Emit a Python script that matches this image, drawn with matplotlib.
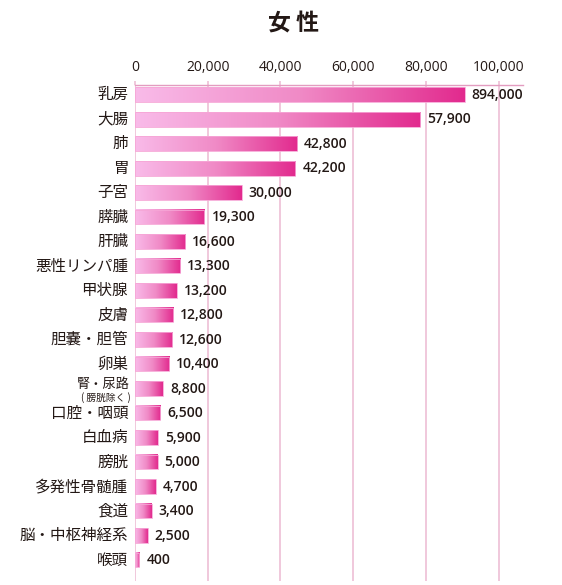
import numpy as np
import matplotlib
matplotlib.use("Agg")
import matplotlib.pyplot as plt
from matplotlib.colors import LinearSegmentedColormap
from matplotlib.patches import Rectangle

# ---- data ----
categories = ["乳房", "大腸", "肺", "胃", "子宮", "膵臓", "肝臓", "悪性リンパ腫",
              "甲状腺", "皮膚", "胆嚢・胆管", "卵巣", "腎・尿路", "口腔・咽頭",
              "白血病", "膀胱", "多発性骨髄腫", "食道", "脳・中枢神経系", "喉頭"]
bar_values = [90700, 78400, 44600, 44100, 29400, 19100, 13800, 12400,
              11500, 10500, 10200, 9400, 7700, 6900,
              6300, 6200, 5700, 4600, 3500, 1200]
value_labels = ["894,000", "57,900", "42,800", "42,200", "30,000", "19,300",
                "16,600", "13,300", "13,200", "12,800", "12,600", "10,400",
                "8,800", "6,500", "5,900", "5,000", "4,700", "3,400", "2,500", "400"]
sub_label = "( 膀胱除く )"
xticks = [0, 20000, 40000, 60000, 80000, 100000]
xtick_labels = ["0", "20,000", "40,000", "60,000", "80,000", "100,000"]
title = "女 性"

JP = ["Noto Sans CJK JP", "DejaVu Sans"]
NUM = ["Open Sans", "DejaVu Sans"]
TXT = "#231815"
GRID = "#eebfd5"
AXLINE = "#e39cc0"

fig = plt.figure(figsize=(5.62, 5.85), dpi=100)
W, H = 562, 585
ax = fig.add_axes([135 / W, 1 - 581 / H, (523 - 135) / W, (581 - 85) / H])

cmap = LinearSegmentedColormap.from_list("pinkgrad", ["#f9bbe9", "#f08ac6", "#e22a8e"])
grad = np.linspace(0, 1, 256).reshape(1, -1)
bh = 0.6
y = np.arange(len(categories))

for yi, v in zip(y, bar_values):
    ax.imshow(grad, extent=[0, v, yi + bh / 2, yi - bh / 2], aspect="auto",
              cmap=cmap, interpolation="bicubic", zorder=3)
    ax.add_patch(Rectangle((0, yi - bh / 2), v, bh, fill=False,
                           edgecolor="#f6a6d6", linewidth=0.6, zorder=4))

for yi, v, lab in zip(y, bar_values, value_labels):
    ax.annotate(lab, xy=(v, yi), xytext=(5, 0), textcoords="offset points",
                ha="left", va="center", fontsize=10, fontweight="semibold",
                family=NUM, color=TXT, zorder=5)

for yi, cat in zip(y, categories):
    if cat == "腎・尿路":
        ax.annotate(cat, xy=(0, yi), xycoords=("axes fraction", "data"),
                    xytext=(-3.5, 3), textcoords="offset points",
                    ha="right", va="center", fontsize=9.5,
                    family=JP, color=TXT)
        ax.annotate(sub_label, xy=(0, yi), xycoords=("axes fraction", "data"),
                    xytext=(-3, -6.5), textcoords="offset points",
                    ha="right", va="center", fontsize=7,
                    family=JP, color=TXT)
    else:
        ax.annotate(cat, xy=(0, yi), xycoords=("axes fraction", "data"),
                    xytext=(-5, 0), textcoords="offset points",
                    ha="right", va="center", fontsize=11.2,
                    family=JP, color=TXT)

ax.set_xlim(0, 106700)
ax.set_ylim(19.857, -0.396)

for xt in xticks:
    ax.axvline(xt, color=GRID, linewidth=1.2, zorder=1)

ax.xaxis.tick_top()
ax.set_xticks(xticks)
ax.set_xticklabels(xtick_labels, family=NUM, fontsize=10, color=TXT)
ax.tick_params(axis="x", which="both", direction="out", length=3, width=1.2,
               color=GRID, pad=4)
ax.set_yticks([])
for s in ["bottom", "left", "right"]:
    ax.spines[s].set_visible(False)
ax.spines["top"].set_color(AXLINE)
ax.spines["top"].set_linewidth(1.0)

fig.text(293 / W, 1 - 24 / H, title, ha="center", va="center", fontsize=16.5,
         family=JP, fontweight="bold", color=TXT)

fig.savefig("out.png", dpi=100)
